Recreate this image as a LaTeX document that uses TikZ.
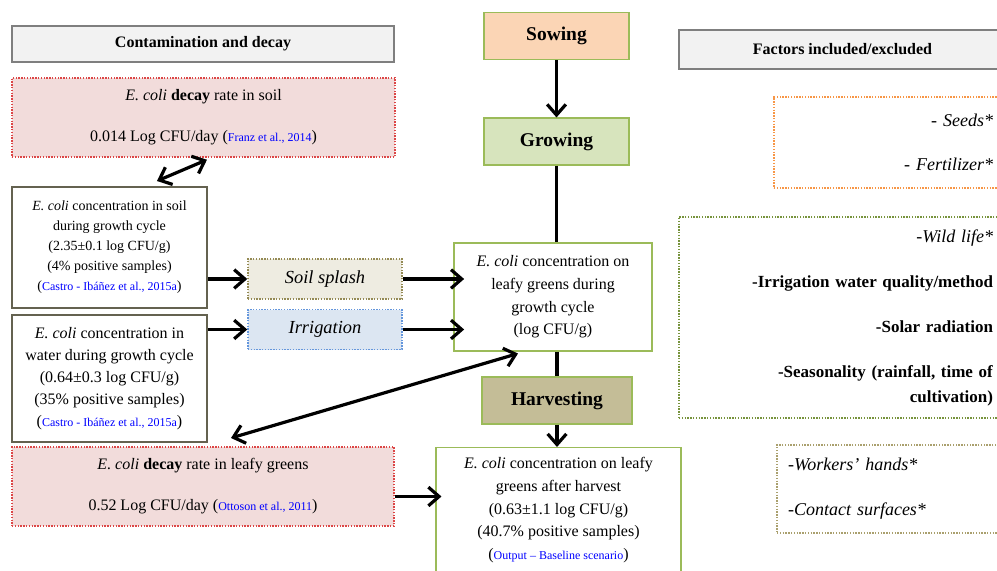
\documentclass[tikz,border=0pt]{standalone}
\usepackage{fontspec}
\setmainfont{Liberation Serif}
\usetikzlibrary{arrows.meta}

\definecolor{citeblue}{RGB}{0,0,255}
\definecolor{headgray}{RGB}{127,127,127}
\definecolor{headfill}{RGB}{242,242,242}
\definecolor{decayfill}{RGB}{242,220,219}
\definecolor{decayline}{RGB}{220,70,70}
\definecolor{concline}{RGB}{100,98,80}
\definecolor{splashfill}{RGB}{238,236,225}
\definecolor{splashline}{RGB}{148,138,84}
\definecolor{irrigfill}{RGB}{220,230,242}
\definecolor{irrigline}{RGB}{100,150,220}
\definecolor{leafline}{RGB}{155,187,89}
\definecolor{sowfill}{RGB}{251,213,181}
\definecolor{growfill}{RGB}{215,228,189}
\definecolor{harvfill}{RGB}{196,189,151}
\definecolor{seedline}{RGB}{247,150,70}
\definecolor{wildline}{RGB}{119,147,60}
\definecolor{workline}{RGB}{170,160,110}

\newcommand{\srccite}[1]{(\textcolor{citeblue}{\fontsize{9}{11}\selectfont #1})}

\begin{document}
\begin{tikzpicture}[x=0.75pt, y=-0.75pt,
  >={Straight Barb[length=8pt,width=14pt]},
  head/.style={draw=headgray, line width=1pt, fill=headfill, font=\fontsize{12}{14}\selectfont\bfseries, minimum width=286.5pt, minimum height=27pt},
  decay/.style={draw=decayline, densely dotted, line width=1.1pt, fill=decayfill, align=center, font=\fontsize{12}{16.5}\selectfont, minimum width=287.25pt, minimum height=59.25pt},
  conc/.style={draw=concline, line width=1.5pt, fill=white, align=center, font=\fontsize{12}{16.5}\selectfont, minimum width=146.25pt, minimum height=90.75pt},
  route/.style={densely dotted, line width=1.1pt, font=\fontsize{13.8}{16}\selectfont\itshape, minimum width=115.5pt, minimum height=30pt},
  stage/.style={draw=leafline, line width=0.8pt, font=\fontsize{14.6}{17}\selectfont\bfseries, minimum width=108.75pt, minimum height=35.25pt},
  leaf/.style={draw=leafline, line width=0.8pt, fill=white, align=center, font=\fontsize{12}{17}\selectfont},
  factor/.style={densely dotted, line width=1.1pt, inner xsep=9pt}
]
\useasboundingbox (0,0) rectangle (997,571);

% left column
\node[head] (headL) at (203,44) {Contamination and decay};
\node[decay] (decaysoil) at (203.5,117.5) {\textit{E. coli} \textbf{decay} rate in soil\\[14.25pt] 0.014 Log CFU/day \srccite{Franz et al., 2014}};
\node[conc, font=\fontsize{10.5}{15}\selectfont] (soilconc) at (109.5,247.5) {\textit{E. coli} concentration in soil\\ during growth cycle\\ (2.35±0.1 log CFU/g)\\ (4\% positive samples)\\ \srccite{Castro - Ibáñez et al., 2015a}};
\node[conc, minimum height=95.25pt] (water) at (109.5,378.5) {\textit{E. coli} concentration in\\ water during growth cycle\\ (0.64±0.3 log CFU/g)\\ (35\% positive samples)\\ \srccite{Castro - Ibáñez et al., 2015a}};
\node[decay, minimum width=286.5pt] (decayleaf) at (203,486.5) {\textit{E. coli} \textbf{decay} rate in leafy greens\\[14.25pt] 0.52 Log CFU/day \srccite{Ottoson et al., 2011}};

\node[route, fill=splashfill, draw=splashline] (splash) at (325,279) {Soil splash};
\node[route, fill=irrigfill, draw=irrigline] (irrig) at (325,329.5) {Irrigation};

% central column
\node[stage, fill=sowfill] (sowing) at (556.5,36) {Sowing};
\node[stage, fill=growfill] (growing) at (556.5,141.5) {Growing};
\node[leaf, minimum width=148.5pt, minimum height=81pt] (leafy) at (553,297) {\textit{E. coli} concentration on\\ leafy greens during\\ growth cycle\\ (log CFU/g)};
\node[stage, fill=harvfill, minimum width=112.5pt] (harvest) at (557,400.5) {Harvesting};
\node[leaf, anchor=north, minimum width=183.75pt, inner ysep=7.5pt] (after) at (558.5,447) {\textit{E. coli} concentration on leafy\\ greens after harvest\\ (0.63±1.1 log CFU/g)\\ (40.7\% positive samples)\\ \srccite{Output – Baseline scenario}};

% right column
\node[head, minimum width=245.25pt, minimum height=29.25pt] (headR) at (842.5,49.5) {Factors included/excluded};
\node[factor, draw=seedline, text width=155.25pt, align=right, minimum height=68.25pt, font=\fontsize{13.5}{18.75}\selectfont] (seeds) at (889.5,142.5) {- \textit{Seeds*}\\[14.25pt] - \textit{Fertilizer*}};
\node[factor, draw=wildline, text width=226.5pt, align=right, minimum height=150.75pt, font=\fontsize{12.75}{18.75}\selectfont] (wild) at (842,317.5) {{\fontsize{13.5}{18.75}\selectfont -\textit{Wild life*}}\\[15pt] \textbf{-Irrigation water quality/method}\\[15pt] \textbf{-Solar radiation}\\[15pt] \textbf{-Seasonality (rainfall, time of}\\ \textbf{cultivation)}};
\node[factor, draw=workline, inner xsep=8.25pt, text width=154.5pt, align=left, minimum height=66pt, font=\fontsize{13.5}{18.75}\selectfont] (workers) at (891,489) {-\textit{Workers’ hands*}\\[15pt] -\textit{Contact surfaces*}};

\coordinate (soiltip) at ([xshift=35.6pt,yshift=3.75pt]soilconc.north);
\coordinate (decaytip) at ([xshift=2.6pt,yshift=-1.5pt]decaysoil.south);
\coordinate (gaptip) at ([xshift=17.25pt,yshift=3.75pt]water.south east);
\coordinate (leafytip) at ([xshift=-26.25pt,yshift=-1.5pt]leafy.south);
\coordinate (lossrow) at ([yshift=-7.5pt]decayleaf.east);

\path[->, line width=2.4pt]
(sowing)                     edge                     (growing)
(growing)                    edge[-]                  (growing.south |- leafy.north)
(harvest.north |- leafy.south) edge[-]                (harvest)
(harvest)                    edge                     (harvest.south |- after.north)
(soilconc.east |- splash.west) edge                   (splash)
(water.east |- irrig.west)   edge                     (irrig)
(splash)                     edge[shorten >=-8pt]     (leafy.west |- splash.east)
(irrig)                      edge[shorten >=-8pt]     (leafy.west |- irrig.east)
(lossrow)                    edge[shorten >=-4.5pt]   (after.west |- lossrow)
(soiltip)                    edge[<->]                (decaytip)
(gaptip)                     edge[<->]                (leafytip)
;
\end{tikzpicture}
\end{document}
